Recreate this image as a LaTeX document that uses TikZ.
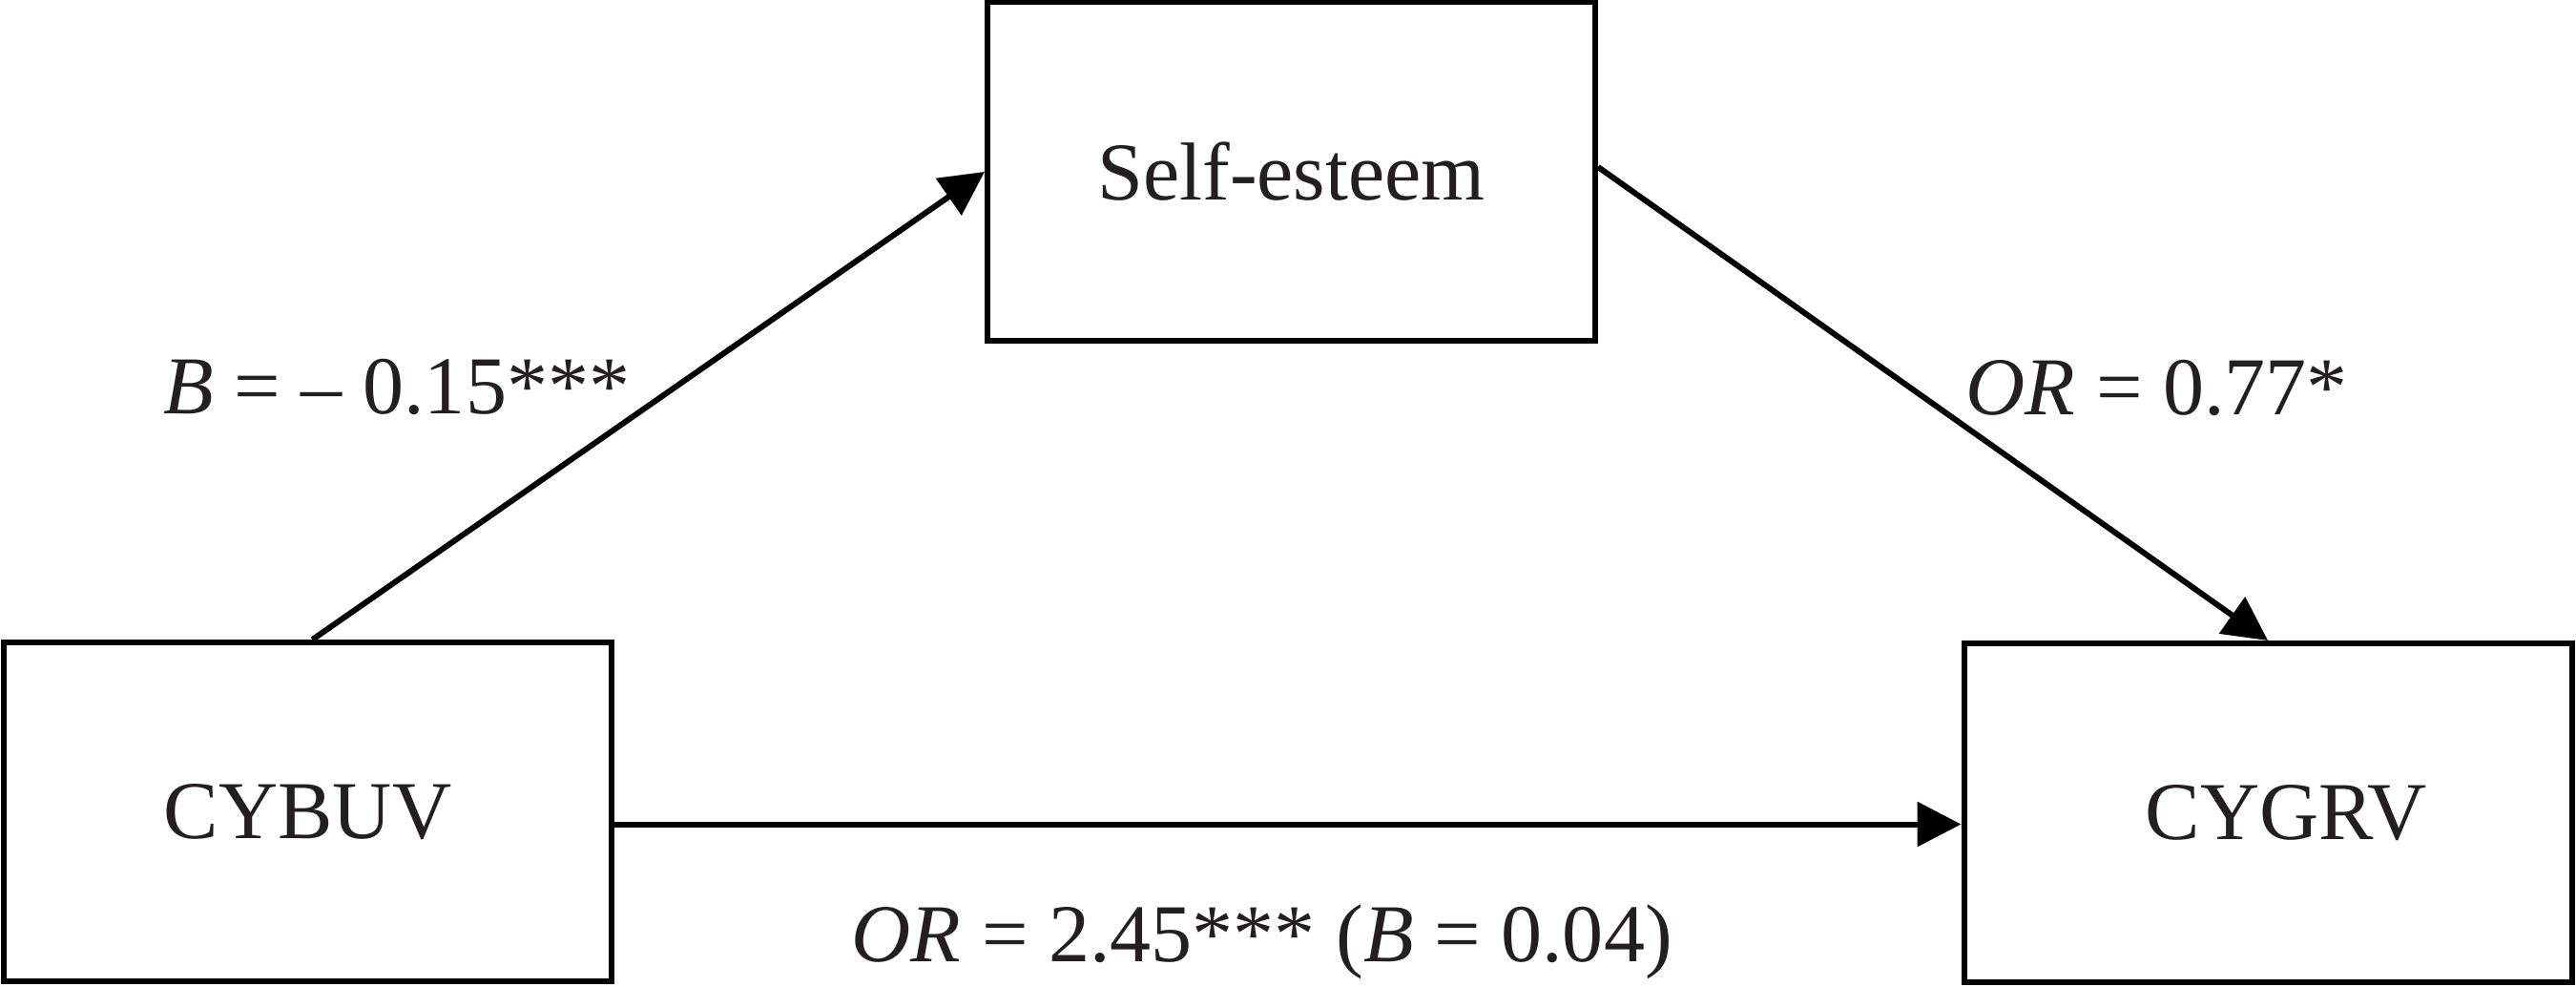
\documentclass[tikz,border=0pt]{standalone}
\usepackage{fontspec}
\setmainfont{Liberation Serif}
\usetikzlibrary{arrows.meta,calc}
\definecolor{ink}{HTML}{231F20}
\begin{document}
\begin{tikzpicture}[
  font=\fontsize{24.5}{29}\selectfont,
  box/.style={draw=black, line width=0.06cm, minimum width=6.37cm, minimum height=3.55cm, inner sep=0pt, text=ink},
  arr/.style={draw=black, line width=0.06cm, -{Triangle[length=0.46cm,width=0.46cm]}},
  lbl/.style={inner sep=0pt, anchor=base west, text=ink}
]
\useasboundingbox (0,0) rectangle (27,10.33);
\node[box] (se) at (13.535,8.53) {Self-esteem};
\node[box] (cybuv) at (3.225,1.825) {CYBUV};
\node[box] (cygrv) at (23.77,1.815) {\hspace*{0.38cm}CYGRV};

\coordinate (a1) at ($(cybuv.north)+(0.05,0)$);
\coordinate (a2) at ($(se.east)+(0,0.05)$);
\coordinate (a3) at ($(cybuv.east)+(0,-0.13)$);
\draw[arr] (a1) -- (se.west);
\draw[arr] (a2) -- (cygrv.north);
\draw[arr] (a3) -- (a3 -| cygrv.west);

\node[lbl] (l1) at (1.71,5.99) {\textit{B} = – 0.15***};
\node[lbl] (l2) at (20.60,5.98) {\textit{OR} = 0.77*};
\node[lbl] (l3) at (8.92,0.26) {\textit{OR} = 2.45*** (\textit{B} = 0.04)};
\end{tikzpicture}
\end{document}
